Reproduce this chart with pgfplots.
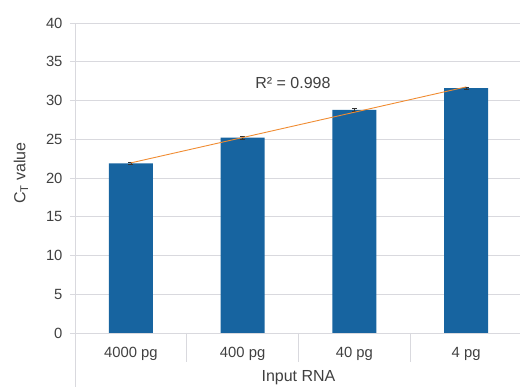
\documentclass[border=0pt]{standalone}
\usepackage{fontspec}
\setmainfont{Liberation Sans}
\usepackage{pgfplots}
\pgfplotsset{compat=1.18}
\definecolor{barblue}{RGB}{23,100,160}
\definecolor{trend}{RGB}{240,140,50}
\definecolor{gridc}{RGB}{217,217,222}
\definecolor{txt}{RGB}{64,64,64}
\begin{document}
\begin{tikzpicture}
\path[use as bounding box] (-75pt,-54pt) rectangle (445pt,333pt);
\begin{axis}[
  at={(0pt,0pt)}, anchor=south west,
  scale only axis, width=447pt, height=310pt,
  xmin=-0.5, xmax=3.5, ymin=0, ymax=40,
  ytick={0,5,...,40},
  xtick={0,1,2,3},
  xticklabels={4000 pg,400 pg,40 pg,4 pg},
  tick align=outside, major tick length=5pt,
  xtick style={draw=none},
  ytick style={gridc, line width=0.8pt},
  ymajorgrids, grid style={gridc, line width=0.8pt},
  axis line style={gridc, line width=0.8pt},
  axis x line*=bottom, axis y line*=left,
  tick label style={font=\fontsize{14.8}{16}\selectfont, text=txt},
  /pgf/number format/assume math mode=true,
  yticklabel style={xshift=-4pt},
  xticklabel style={yshift=-6pt},
  xlabel={Input RNA},
  ylabel={C\textsubscript{T} value},
  label style={font=\fontsize{16}{18}\selectfont, text=txt},
  xlabel style={at={(axis description cs:0.5,0)}, anchor=north, yshift=-34pt},
  ylabel style={at={(axis description cs:-0.121,0.516)}, anchor=center},
  clip=false,
]
\addplot[ybar, bar width=44pt, fill=barblue, draw=none,
  error bars/.cd, y dir=both, y explicit,
  error bar style={black!80, line width=0.7pt},
  error mark options={black!80, line width=0.7pt, mark size=2.5pt, rotate=90}]
  coordinates {(0,21.9) +- (0,0.15) (1,25.2) +- (0,0.15) (2,28.8) +- (0,0.15) (3,31.6) +- (0,0.15)};
\addplot[trend, line width=0.9pt, mark=none] coordinates {(0,21.95) (3,31.75)};
\node[font=\fontsize{16}{18}\selectfont, text=txt] at (axis cs:1.45,32.3) {R² = 0.998};
\draw[gridc, line width=0.8pt] (axis cs:-0.5,0) -- ++(0pt,-60pt);
\draw[gridc, line width=0.8pt] (axis cs:0.5,0) -- ++(0pt,-29pt);
\draw[gridc, line width=0.8pt] (axis cs:1.5,0) -- ++(0pt,-29pt);
\draw[gridc, line width=0.8pt] (axis cs:2.5,0) -- ++(0pt,-29pt);
\end{axis}
\end{tikzpicture}
\end{document}
